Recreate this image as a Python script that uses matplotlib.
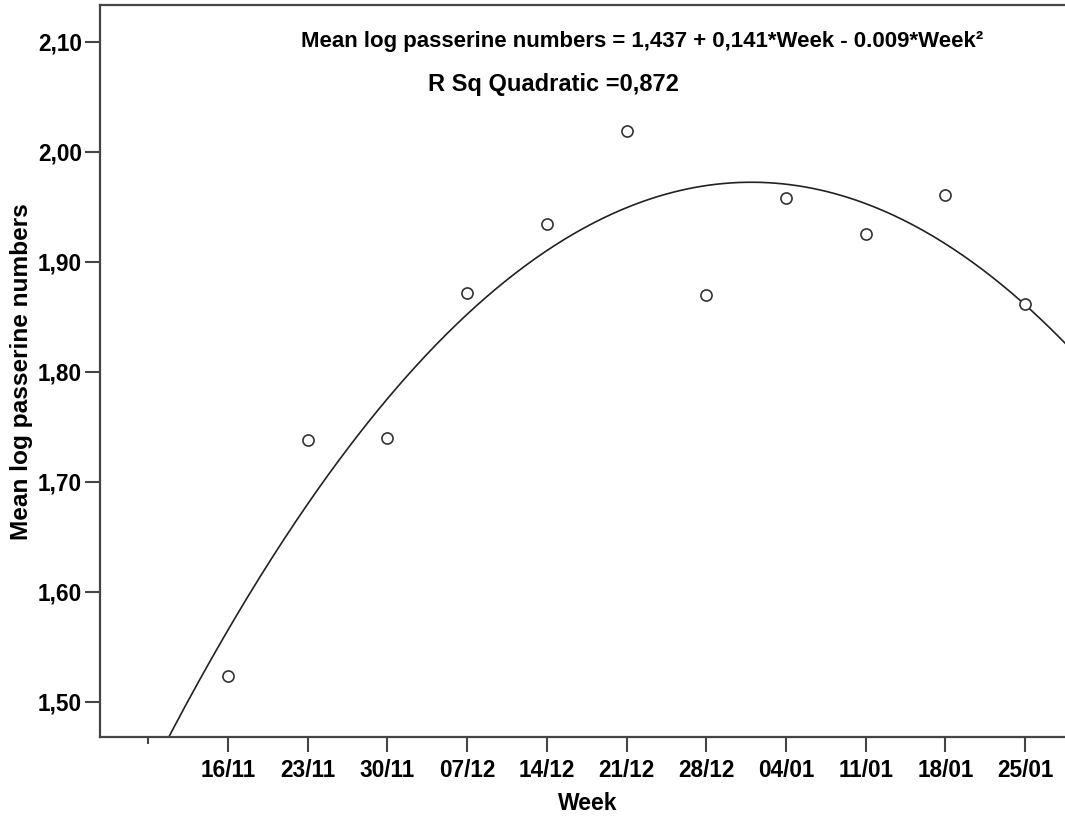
import numpy as np
import matplotlib
matplotlib.use("Agg")
import matplotlib.pyplot as plt

weeks = [1, 2, 3, 4, 5, 6, 7, 8, 9, 10, 11]
week_labels = ["16/11", "23/11", "30/11", "07/12", "14/12", "21/12", "28/12", "04/01", "11/01", "18/01", "25/01"]
mean_log = [1.523, 1.738, 1.740, 1.872, 1.934, 2.019, 1.870, 1.958, 1.925, 1.961, 1.862]
yticks = [1.50, 1.60, 1.70, 1.80, 1.90, 2.00, 2.10]
equation = "Mean log passerine numbers = 1,437 + 0,141*Week - 0.009*Week²"
rsq = "R Sq Quadratic =0,872"

plt.rcParams['font.family'] = ["Liberation Sans", "DejaVu Sans"]

W, H = 1065, 822
fig = plt.figure(figsize=(W / 100, H / 100), dpi=100)
L, R, T, B = 100, 1065, 5, 737
ax = fig.add_axes([L / W, 1 - B / H, (R - L) / W, (B - T) / H])

coef = np.polyfit(weeks, mean_log, 2)
xs = np.linspace(-0.7, 11.6, 400)
ax.plot(xs, np.polyval(coef, xs), color="#222222", lw=1.2, zorder=2)
ax.plot(weeks, mean_log, linestyle="none", marker="o", ms=8, mfc="white",
        mec="#333333", mew=1.2, zorder=3)

ax.set_xlim(-0.607, 11.5)
ax.set_ylim(1.4679, 2.1334)
ax.set_xticks(weeks)
ax.set_xticklabels(week_labels)
ax.set_xticks([0], minor=True)
ax.set_yticks(yticks)
ax.set_yticklabels([f"{v:.2f}".replace(".", ",") for v in yticks])

for s in ["left", "bottom", "top"]:
    ax.spines[s].set_color("#444444")
    ax.spines[s].set_linewidth(1.6)
ax.spines["right"].set_visible(False)
ax.tick_params(axis="both", which="major", length=11, width=1.5, color="#444444",
               labelsize=16.3)
ax.tick_params(axis="x", which="major", pad=5)
ax.tick_params(axis="y", which="major", pad=2)
ax.tick_params(axis="x", which="minor", length=5, width=1.5, color="#444444")
for lab in ax.get_xticklabels() + ax.get_yticklabels():
    lab.set_fontweight("bold")

fig.text(642.5 / W, 1 - 42 / H, equation, ha="center", va="center", fontsize=16, fontweight="bold")
fig.text(553 / W, 1 - 85 / H, rsq, ha="center", va="center", fontsize=17, fontweight="bold")
fig.text(22 / W, 1 - 372 / H, "Mean log passerine numbers", rotation=90, ha="center",
         va="center", fontsize=17.6, fontweight="bold")
fig.text(588 / W, 1 - 803 / H, "Week", ha="center", va="center", fontsize=16.5, fontweight="bold")

fig.savefig("out.png", dpi=100)
